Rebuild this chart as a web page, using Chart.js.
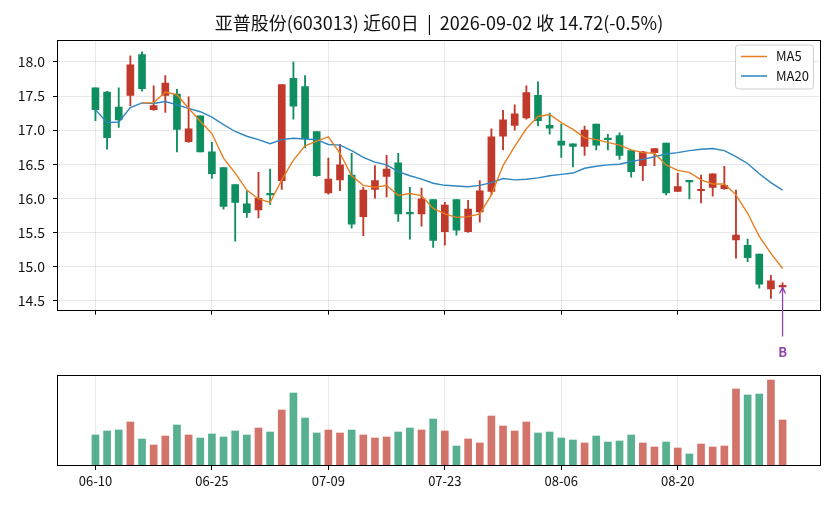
<!DOCTYPE html>
<html>
<head>
<meta charset="utf-8">
<script src="https://cdn.jsdelivr.net/npm/chart.js@4.4.1/dist/chart.umd.min.js"></script>
<style>
  body { margin: 0; background: #fff; }
  #wrap { position: relative; width: 836px; height: 506px; }
  #priceBox { position: absolute; left: 0; top: 0; width: 836px; height: 370px; }
  #volBox { position: absolute; left: 0; top: 370px; width: 836px; height: 136px; }
</style>
</head>
<body>
<div id="wrap">
  <div id="priceBox"><canvas id="priceChart"></canvas></div>
  <div id="volBox"><canvas id="volChart"></canvas></div>
</div>
<script>
// 亚普股份(603013), last 60 trading days
var dates = ['06-10','06-11','06-12','06-15','06-16','06-17','06-18','06-22','06-23','06-24',
  '06-25','06-26','06-29','06-30','07-01','07-02','07-03','07-06','07-07','07-08',
  '07-09','07-10','07-13','07-14','07-15','07-16','07-17','07-20','07-21','07-22',
  '07-23','07-24','07-27','07-28','07-29','07-30','07-31','08-03','08-04','08-05',
  '08-06','08-07','08-10','08-11','08-12','08-13','08-14','08-17','08-18','08-19',
  '08-20','08-21','08-24','08-25','08-26','08-27','08-28','08-31','09-01','09-02'];

var opens = [17.62,17.56,17.34,17.51,18.11,17.30,17.51,17.53,16.83,17.21,
  16.68,16.45,16.20,15.92,15.83,16.06,16.26,17.76,17.64,16.98,
  16.08,16.27,16.34,15.73,16.13,16.32,16.52,15.78,15.77,15.98,
  15.51,15.98,15.51,15.80,16.10,16.91,17.07,17.18,17.51,17.07,
  16.84,16.80,16.76,17.09,16.87,16.92,16.70,16.48,16.67,16.81,
  16.10,16.25,16.11,16.16,16.14,15.39,15.31,15.18,14.67,14.70];
var highs = [17.62,17.57,17.62,18.09,18.15,17.65,17.80,17.60,17.49,17.21,
  16.82,16.45,16.20,16.11,16.38,16.43,17.67,18.00,17.80,16.98,
  16.59,16.79,16.66,16.16,16.48,16.63,16.66,16.16,16.15,15.98,
  15.94,15.98,15.97,16.26,17.02,17.29,17.37,17.65,17.71,17.25,
  17.09,16.80,17.06,17.09,16.94,16.96,16.70,16.69,16.73,16.81,
  16.37,16.25,16.34,16.36,16.47,16.12,15.40,15.18,14.87,14.76];
var lows = [17.14,16.72,17.04,17.36,17.57,17.29,17.26,16.68,16.82,16.68,
  16.29,15.84,15.37,15.72,15.71,15.91,16.13,17.16,16.74,16.32,
  16.06,16.11,15.56,15.45,16.00,16.02,15.66,15.40,15.59,15.28,
  15.31,15.46,15.50,15.65,16.05,16.71,17.00,17.16,17.06,16.94,
  16.60,16.46,16.63,16.71,16.71,16.57,16.31,16.26,16.48,16.05,
  16.10,15.99,15.93,16.03,16.13,15.12,15.07,14.68,14.53,14.66];
var closes = [17.30,16.89,17.15,17.96,17.61,17.36,17.69,17.01,17.02,16.68,
  16.36,15.88,15.94,15.79,16.00,16.05,17.67,17.35,16.87,16.33,
  16.28,16.49,15.62,16.12,16.26,16.43,15.77,15.77,15.99,15.38,
  15.90,15.53,15.84,16.11,16.90,17.15,17.24,17.55,17.14,17.03,
  16.78,16.76,17.00,16.78,16.86,16.63,16.39,16.68,16.73,16.08,
  16.17,16.24,16.12,16.36,16.19,15.46,15.13,14.74,14.79,14.72];

// MA5 starts on the 5th day
var ma5 = [null,null,null,null,17.40,17.40,17.56,17.52,17.32,17.13,
  16.95,16.59,16.37,16.12,15.99,15.94,16.27,16.56,16.77,16.84,
  16.90,16.66,16.33,16.19,16.16,16.19,16.04,16.07,16.04,15.85,
  15.77,15.72,15.73,15.77,16.05,16.48,16.76,17.02,17.20,17.23,
  17.11,17.01,16.89,16.86,16.82,16.78,16.71,16.67,16.66,16.49,
  16.41,16.38,16.27,16.21,16.21,16.05,15.78,15.44,15.19,14.97];
var ma20 = [17.30,17.11,17.12,17.33,17.40,17.39,17.42,17.37,17.32,17.27,
  17.19,17.08,16.98,16.91,16.86,16.80,16.86,16.88,16.87,16.86,
  16.79,16.78,16.70,16.60,16.53,16.49,16.39,16.33,16.28,16.22,
  16.19,16.18,16.17,16.19,16.23,16.29,16.27,16.28,16.30,16.33,
  16.35,16.37,16.44,16.47,16.49,16.50,16.54,16.57,16.61,16.65,
  16.67,16.70,16.72,16.73,16.70,16.61,16.51,16.36,16.23,16.12];

// volume, relative units
var volumes = [93,105,108,132,81,63,90,123,93,84,
  96,87,105,93,114,102,168,219,144,99,
  108,99,108,93,84,87,102,114,108,141,
  105,60,81,69,150,120,105,132,99,102,
  84,78,69,90,72,75,93,69,57,72,
  54,36,66,57,60,231,213,216,258,138];

var tickIdx = [0, 10, 20, 30, 40, 50];
var lastIdx = 59;

var UP = '#c0392b', DOWN = '#0f8f5f';
var UP_V = 'rgba(192,57,43,0.7)', DOWN_V = 'rgba(15,143,95,0.7)';
var FONT = '"Noto Sans CJK SC", "Noto Sans", sans-serif';
var GRID = 'rgba(0,0,0,0.09)';

var candleColors = closes.map(function (c, i) { return c >= opens[i] ? UP : DOWN; });
var volColors = closes.map(function (c, i) { return c >= opens[i] ? UP_V : DOWN_V; });

function pts(arr) {
  var out = [];
  arr.forEach(function (v, i) { if (v !== null) out.push({ x: i, y: v }); });
  return out;
}
function setTicks(scale) {
  scale.ticks = tickIdx.map(function (v) { return { value: v }; });
}

// black box around the plot area
var framePlugin = {
  id: 'frame',
  afterDraw: function (chart) {
    var a = chart.chartArea, ctx = chart.ctx;
    ctx.save();
    ctx.strokeStyle = '#000';
    ctx.lineWidth = 1;
    ctx.strokeRect(Math.round(a.left) + 0.5, Math.round(a.top) + 0.5,
      Math.round(a.right - a.left) - 1, Math.round(a.bottom - a.top) - 1);
    ctx.restore();
  }
};

var titlePlugin = {
  id: 'titleText',
  afterDraw: function (chart) {
    var a = chart.chartArea, ctx = chart.ctx;
    var i = lastIdx;
    var chg = (closes[i] / closes[i - 1] - 1) * 100;
    var txt = '亚普股份(603013) 近60日  |  2026-' + dates[i] + ' 收 ' + closes[i].toFixed(2) +
      '(' + chg.toFixed(1) + '%)';
    ctx.save();
    ctx.fillStyle = '#111';
    ctx.font = '18px ' + FONT;
    ctx.textAlign = 'center';
    ctx.textBaseline = 'middle';
    ctx.fillText(txt, (a.left + a.right) / 2, 23.5);
    ctx.restore();
  }
};

var legendPlugin = {
  id: 'boxLegend',
  afterDraw: function (chart) {
    var a = chart.chartArea, ctx = chart.ctx;
    var items = chart.data.datasets.filter(function (d) { return d.type === 'line'; });
    var w = 78, h = 44, x = a.right - w - 8, y = a.top + 5;
    ctx.save();
    ctx.fillStyle = 'rgba(255,255,255,0.85)';
    ctx.strokeStyle = '#d0d0d0';
    ctx.lineWidth = 1;
    ctx.beginPath();
    ctx.roundRect(x + 0.5, y + 0.5, w, h, 3);
    ctx.fill();
    ctx.stroke();
    ctx.font = '13px ' + FONT;
    ctx.textBaseline = 'middle';
    items.forEach(function (d, k) {
      var ly = y + 12 + k * 19.5;
      ctx.strokeStyle = d.borderColor;
      ctx.lineWidth = 1.5;
      ctx.beginPath();
      ctx.moveTo(x + 6, ly);
      ctx.lineTo(x + 32, ly);
      ctx.stroke();
      ctx.fillStyle = '#111';
      ctx.fillText(d.label, x + 41, ly);
    });
    ctx.restore();
  }
};

// "B" marker under the last candle
var markPlugin = {
  id: 'markB',
  afterDraw: function (chart) {
    var ctx = chart.ctx;
    var px = chart.scales.x.getPixelForValue(lastIdx);
    var tip = chart.scales.y.getPixelForValue(lows[lastIdx]) - 2;
    var tail = tip + 49;
    ctx.save();
    ctx.strokeStyle = '#8e44ad';
    ctx.fillStyle = '#8e44ad';
    ctx.lineWidth = 1.3;
    ctx.beginPath();
    ctx.moveTo(px, tail);
    ctx.lineTo(px, tip);
    ctx.moveTo(px - 3, tip + 6);
    ctx.lineTo(px, tip);
    ctx.lineTo(px + 3, tip + 6);
    ctx.stroke();
    ctx.font = 'bold 13px ' + FONT;
    ctx.textAlign = 'center';
    ctx.textBaseline = 'middle';
    ctx.fillText('B', px, tail + 15);
    ctx.restore();
  }
};

var priceChart = new Chart(document.getElementById('priceChart'), {
  type: 'bar',
  data: {
    datasets: [
      { type: 'line', label: 'MA5', data: pts(ma5), borderColor: '#e67e22', borderWidth: 1.4,
        pointRadius: 0, tension: 0, order: 0 },
      { type: 'line', label: 'MA20', data: pts(ma20), borderColor: '#2e86c1', borderWidth: 1.4,
        pointRadius: 0, tension: 0, order: 0 },
      { type: 'bar', label: 'wick', data: highs.map(function (h, i) { return { x: i, y: [lows[i], h] }; }),
        backgroundColor: candleColors, barThickness: 1.2, grouped: false, order: 2 },
      { type: 'bar', label: 'body', data: opens.map(function (o, i) { return { x: i, y: [o, closes[i]] }; }),
        backgroundColor: candleColors, barThickness: 7, grouped: false, minBarLength: 1.5, order: 1 }
    ]
  },
  options: {
    responsive: true,
    maintainAspectRatio: false,
    animation: false,
    layout: { padding: { top: 39.5, right: 15, left: 0, bottom: 0 } },
    scales: {
      x: {
        type: 'linear', min: -3.3, max: 62.3, offset: false,
        afterBuildTicks: setTicks,
        afterFit: function (s) { s.height = 59.3; },
        ticks: { display: false },
        grid: { color: GRID, tickColor: '#000', tickLength: 4, offset: false },
        border: { display: false }
      },
      y: {
        min: 14.35, max: 18.33,
        afterFit: function (s) { s.width = 57; },
        ticks: { stepSize: 0.5, includeBounds: false, padding: 8, color: '#111',
          font: { family: FONT, size: 14 },
          callback: function (v) { return v.toFixed(1); } },
        grid: { color: GRID, tickColor: '#000', tickLength: 4 },
        border: { display: false }
      }
    },
    plugins: { legend: { display: false }, tooltip: { enabled: false } }
  },
  plugins: [framePlugin, titlePlugin, legendPlugin, markPlugin]
});

var volChart = new Chart(document.getElementById('volChart'), {
  type: 'bar',
  data: {
    datasets: [
      { label: '成交量', data: volumes.map(function (v, i) { return { x: i, y: v }; }),
        backgroundColor: volColors, barThickness: 7, grouped: false }
    ]
  },
  options: {
    responsive: true,
    maintainAspectRatio: false,
    animation: false,
    layout: { padding: { top: 5, right: 15, left: 0, bottom: 0 } },
    scales: {
      x: {
        type: 'linear', min: -3.3, max: 62.3, offset: false,
        afterBuildTicks: setTicks,
        afterFit: function (s) { s.height = 40; },
        ticks: { padding: 3, color: '#111', maxRotation: 0, autoSkip: false,
          font: { family: FONT, size: 13 },
          callback: function (v) { return dates[v]; } },
        grid: { color: GRID, tickColor: '#000', tickLength: 4, offset: false },
        border: { display: false }
      },
      y: {
        min: 0, max: 273,
        afterFit: function (s) { s.width = 57; },
        ticks: { display: false },
        grid: { display: false },
        border: { display: false }
      }
    },
    plugins: { legend: { display: false }, tooltip: { enabled: false } }
  },
  plugins: [framePlugin]
});
</script>
</body>
</html>
